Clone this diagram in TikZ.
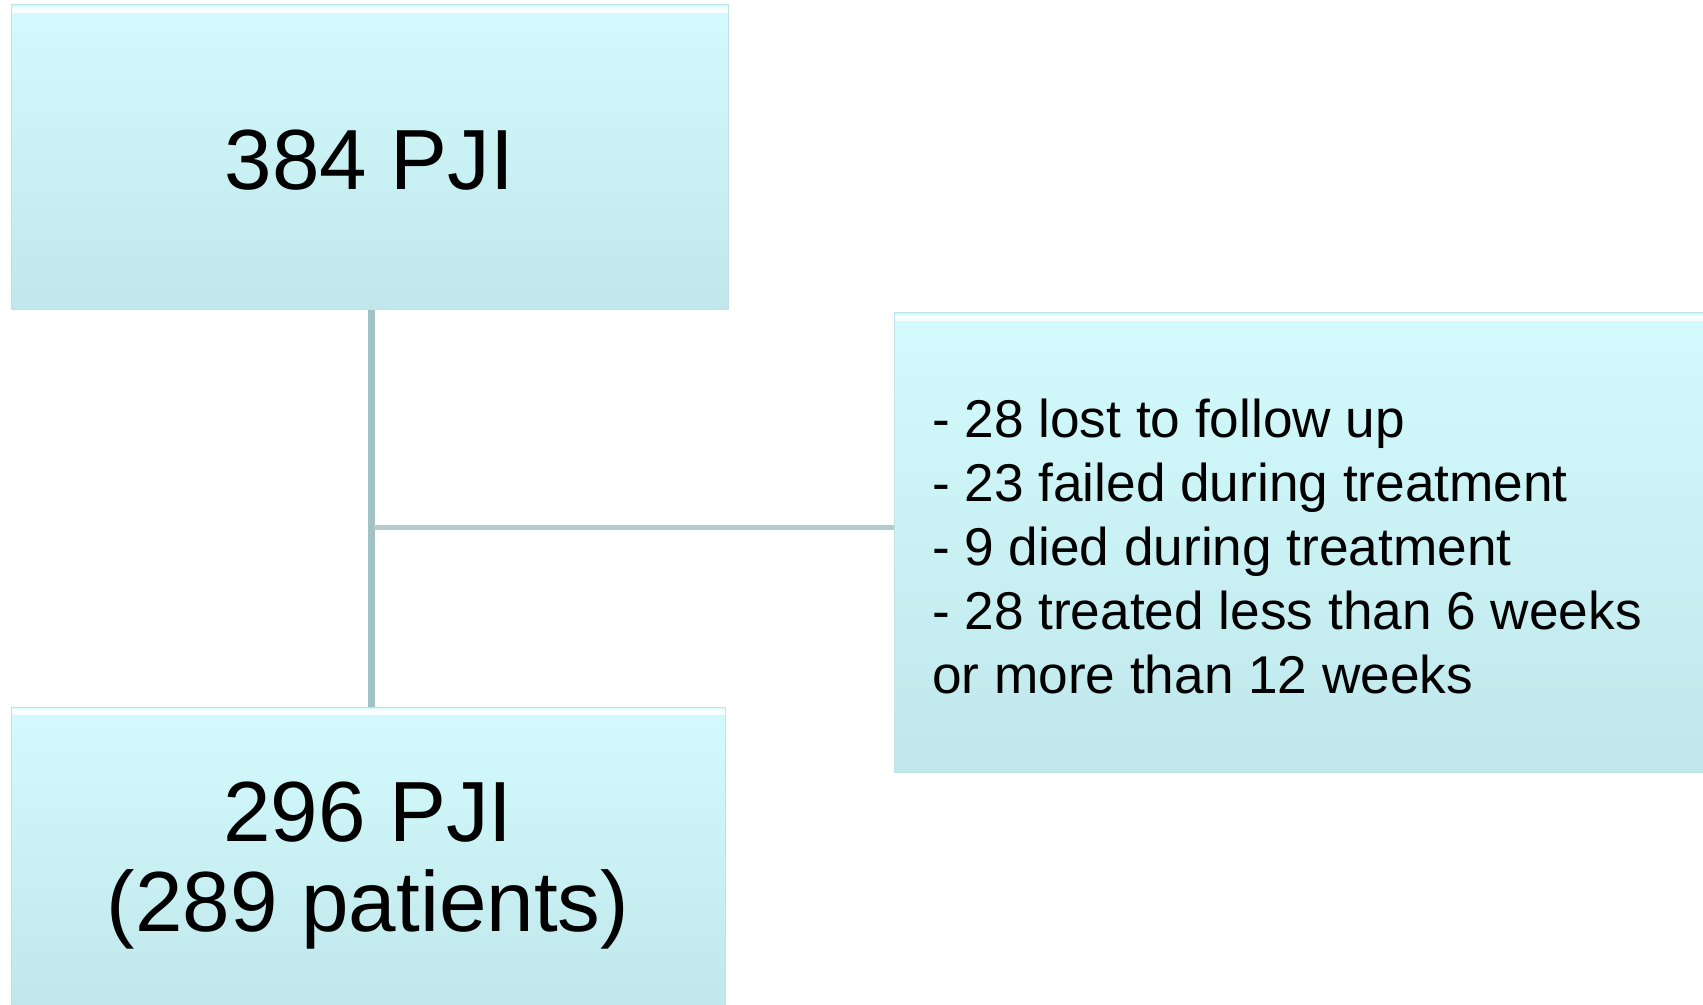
\documentclass[tikz,border=0pt]{standalone}
\usepackage{fontspec}
\setmainfont{Liberation Sans}
\definecolor{boxtop}{HTML}{D3FBFD}
\definecolor{boxbot}{HTML}{C0E8EC}
\definecolor{boxedge}{HTML}{BFE2E6}
\definecolor{linecol}{HTML}{A3C2C6}
\definecolor{hlinecol}{HTML}{B5CBCE}
\begin{document}
\begin{tikzpicture}[x=0.5pt,y=-0.5pt,
  flowbox/.style={rectangle, inner sep=0pt, top color=boxtop, bottom color=boxbot,
    draw=boxedge, line width=0.5pt, text=black,
    path picture={\draw[white, line width=3pt, opacity=0.85]
      ([yshift=-2.5pt]path picture bounding box.north west) -- ([yshift=-2.5pt]path picture bounding box.north east);}},
  bigtext/.style={font=\fontsize{42.7}{45}\selectfont, align=center},
  smalltext/.style={font=\fontsize{26.6}{32}\selectfont, align=left},
  vline/.style={draw=linecol, line width=3.5pt},
  hline/.style={draw=hlinecol, line width=2.5pt}]
\useasboundingbox (0,0) rectangle (1703,1005);
\node[flowbox, minimum width=358.5pt, minimum height=152.5pt] (top) at (369.5,157.5) {};
\node[bigtext] (toptext) at (369.5,160) {384 PJI};
\node[flowbox, minimum width=357pt, minimum height=149pt] (bottom) at (368,856) {};
\node[bigtext] (bottomtext) at (368,866) {296 PJI\\(289 patients)};
\node[flowbox, minimum width=404.5pt, minimum height=229.5pt] (right) at (1298.5,542.5) {};
\node[smalltext, anchor=west] (righttext) at (925,546) {- 28 lost to follow up\\- 23 failed during treatment\\- 9 died during treatment\\- 28 treated less than 6 weeks\\or more than 12 weeks};
\coordinate (j) at (371,527);
\draw[vline] (j |- top.south) -- (j |- bottom.north);
\draw[hline] ([xshift=1.5pt]j) -- (j -| right.west);
\end{tikzpicture}
\end{document}
